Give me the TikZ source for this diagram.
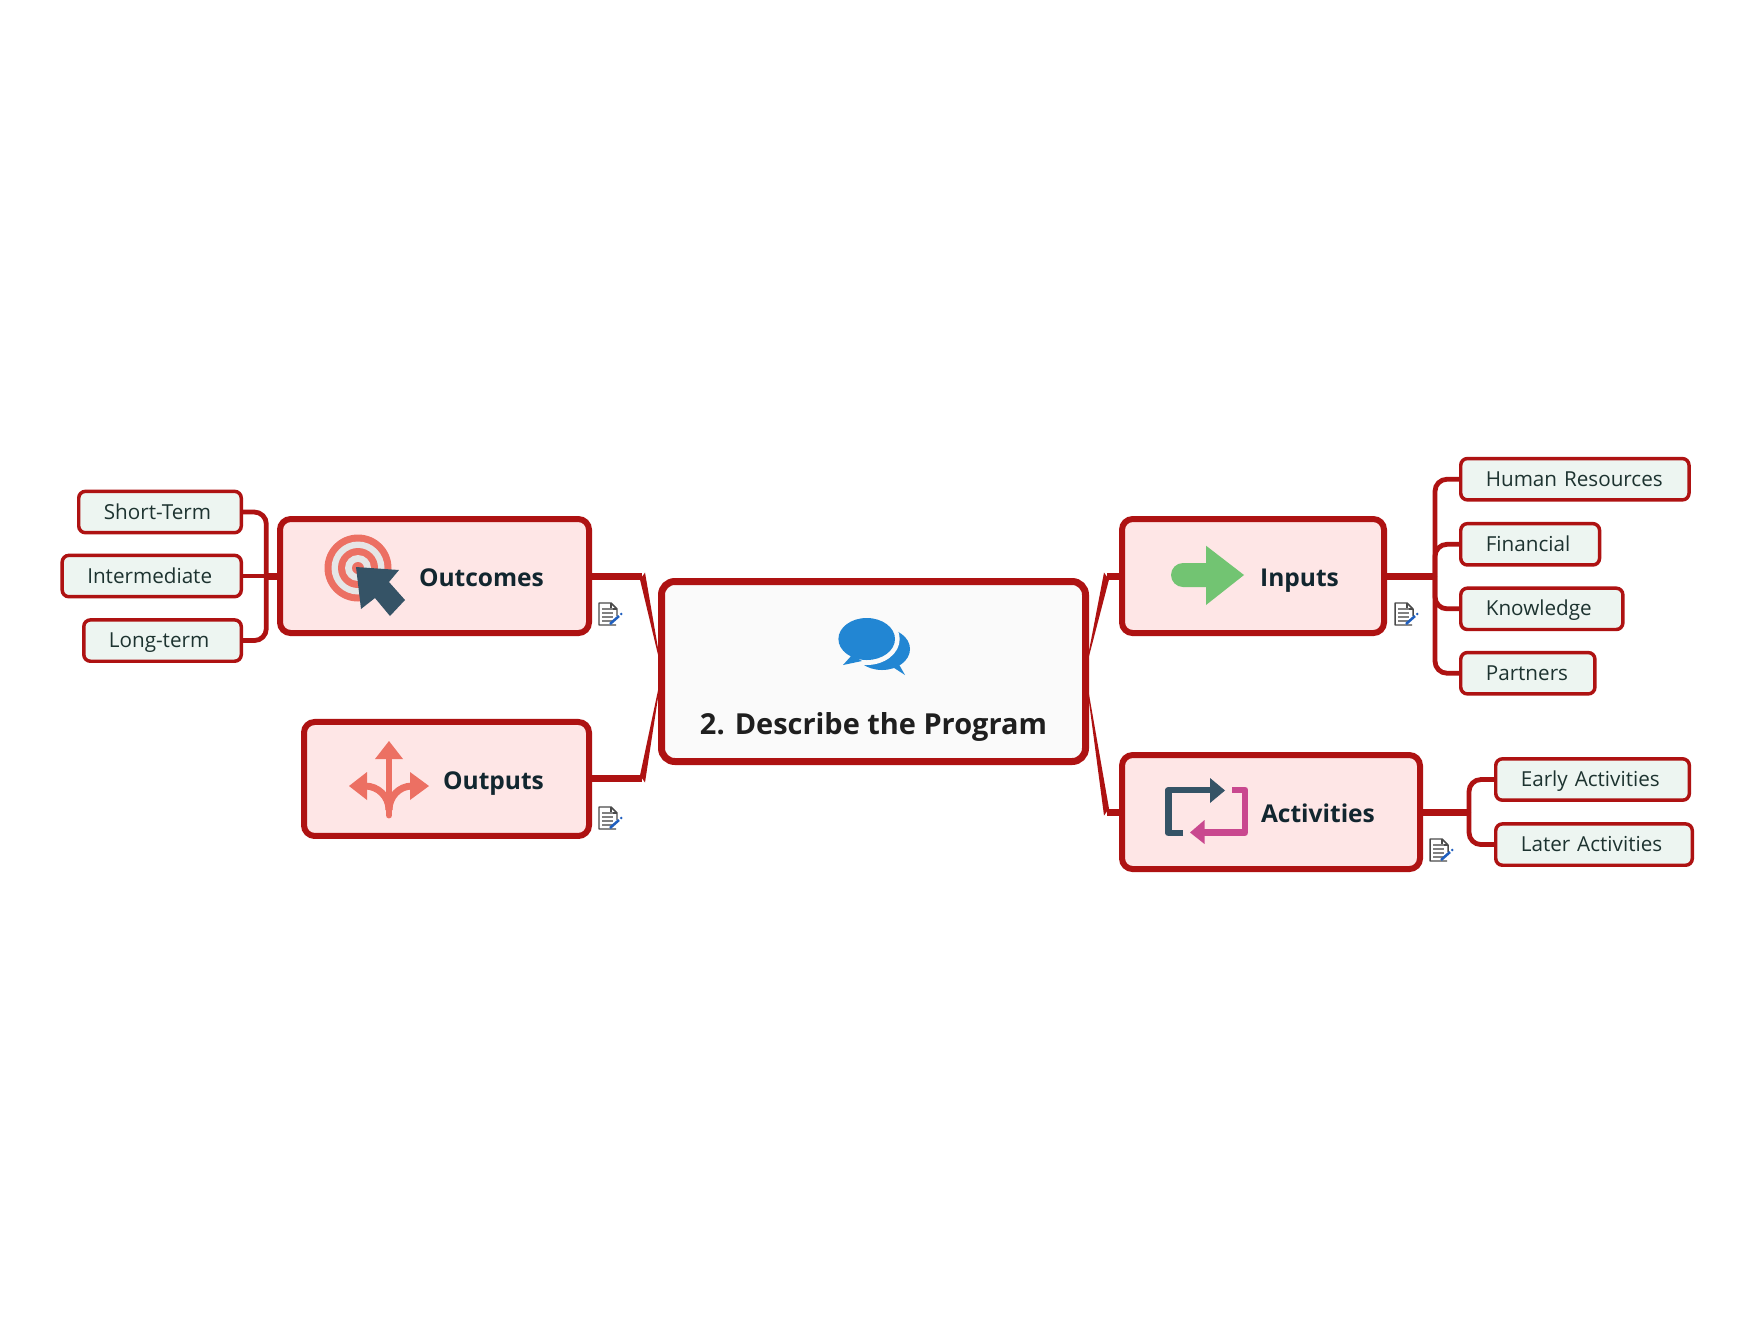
\documentclass[tikz,border=0pt]{standalone}
\usepackage{xcolor}
\usepackage{fontspec}
\setmainfont{Open Sans}
\usetikzlibrary{positioning}
\definecolor{brick}{HTML}{AE1212}
\definecolor{topicfill}{HTML}{FEE6E6}
\definecolor{leaffill}{HTML}{EDF5F1}
\definecolor{mainfill}{HTML}{FAFAFA}
\definecolor{coral}{HTML}{EC7063}
\definecolor{ringgrey}{HTML}{E6E6E6}
\definecolor{slate}{HTML}{355366}
\definecolor{leafgreen}{HTML}{72C472}
\definecolor{magenta}{HTML}{C9488F}
\definecolor{bubble}{HTML}{2286D3}
\definecolor{topicink}{HTML}{12262F}
\definecolor{leafink}{HTML}{1D3330}
\definecolor{notegrey}{HTML}{4A4A4A}
\definecolor{noteblue}{HTML}{1F5FBF}

\begin{document}
\begin{tikzpicture}[
    x=0.75pt, y=-0.75pt,
    mainbox/.style={rectangle, rounded corners=10pt, draw=brick, fill=mainfill, line width=5.25pt, minimum width=318pt, inner xsep=0pt, inner ysep=0pt, text height=114.9pt, text depth=20.1pt, font=\fontsize{21.7}{24}\selectfont\bfseries, text=black!88},
    topic/.style={rectangle, rounded corners=8pt, draw=brick, fill=topicfill, line width=4.5pt, inner xsep=33.8pt, inner ysep=0pt, text height=50.6pt, text depth=34.9pt, align=right, font=\fontsize{18.4}{20}\selectfont\bfseries, text=topicink},
    leaf/.style={rectangle, rounded corners=5pt, draw=brick, fill=leaffill, line width=2.6pt, inner xsep=18.8pt, inner ysep=0pt, text height=20.8pt, text depth=10.2pt, align=left, font=\fontsize{15.5}{17}\selectfont, text=leafink},
    stub/.style={draw=brick, line width=5.25pt},
    branch/.style={draw=brick, line width=3.6pt, rounded corners=9pt},
    noteicon/.pic={
        \draw[notegrey, line width=1.1pt, line join=round] (17,22) -- (0,22) -- (0,0) -- (12,0) -- (18,6) -- (18,13);
        \draw[notegrey, line width=0.8pt] (12,0) -- (12,6) -- (18,6);
        \foreach \yy in {6,10,14,18} \draw[notegrey!70, line width=0.9pt] (3,\yy) -- (14,\yy);
        \draw[noteblue, line width=1.9pt] (11,21) -- (20,13);
        \fill[noteblue] (22.2,11) circle (1pt);
    }
]
\path[fill=white] (0,0) rectangle (1755,1335);
\useasboundingbox (0,0) rectangle (1755,1335);

% central box and the four topics
\node (main) [mainbox] at (873.5,671.5) {2. Describe the Program};
\node (outcomes) [topic, text width=164.15pt, left=49.5pt of main, yshift=71.6pt] {Outcomes};
\node (outputs) [topic, text width=146.15pt, left=49.5pt of main, yshift=-80.6pt] {Outputs};
\node (inputs) [topic, text width=128.9pt, right=22.5pt of main, yshift=71.6pt] {Inputs};
\node (activities) [topic, text width=155.9pt, right=22.5pt of main, yshift=-105.4pt] {Activities};

% joints
\coordinate [right=37.5pt of outcomes] (outcomesknee);
\coordinate [right=37.5pt of outputs] (outputsknee);
\coordinate [left=9pt of inputs] (inputsknee);
\coordinate [left=9pt of activities] (activitiesknee);
\coordinate [left=8pt of outcomes] (outcomesbus);
\coordinate [right=36pt of inputs] (inputsbus);
\coordinate [right=34.5pt of activities] (activitiesbus);

% leaves
\node (shortterm) [leaf, text width=84.3pt, left=17.5pt of outcomesbus, yshift=48pt] {Short-Term};
\node (intermediate) [leaf, text width=96.7pt, left=17.5pt of outcomesbus] {Intermediate};
\node (longterm) [leaf, text width=80.5pt, left=17.5pt of outcomesbus, yshift=-48.4pt] {Long-term};
\node (humanres) [leaf, text width=133.6pt, right=18pt of inputsbus, yshift=72.6pt] {Human Resources};
\node (financial) [leaf, text width=66.5pt, right=18pt of inputsbus, yshift=23.8pt] {Financial};
\node (knowledge) [leaf, text width=84pt, right=18pt of inputsbus, yshift=-24.6pt] {Knowledge};
\node (partners) [leaf, text width=63pt, right=18pt of inputsbus, yshift=-72.9pt] {Partners};
\node (early) [leaf, text width=107.6pt, right=18.75pt of activitiesbus, yshift=24.4pt] {Early Activities};
\node (later) [leaf, text width=109.8pt, right=18.75pt of activitiesbus, yshift=-24.4pt] {Later Activities};

% connectors
\draw [stub] (outcomes) -- (outcomesknee);
\draw [stub] (outputs) -- (outputsknee);
\draw [stub] (inputs) -- (inputsknee);
\draw [stub] (activities) -- (activitiesknee);
\fill [brick] ([shift={(3,-3.5)}]outcomesknee) -- ([xshift=3pt]main.west) -- ([shift={(-2,3.5)}]outcomesknee) -- cycle;
\fill [brick] ([shift={(3,3.5)}]outputsknee) -- ([xshift=3pt]main.west) -- ([shift={(-2,-3.5)}]outputsknee) -- cycle;
\fill [brick] ([shift={(-3,-3.5)}]inputsknee) -- ([xshift=-3pt]main.east) -- ([shift={(2,3.5)}]inputsknee) -- cycle;
\fill [brick] ([shift={(-3,3.5)}]activitiesknee) -- ([xshift=-3pt]main.east) -- ([shift={(2,-3.5)}]activitiesknee) -- cycle;

\draw [stub] (outcomes) -- (outcomesbus);
\draw [stub] (inputs) -- (inputsbus);
\draw [stub] (activities) -- (activitiesbus);
\draw [branch] (shortterm) -| (outcomesbus);
\draw [branch] (intermediate) -- (outcomesbus);
\draw [branch] (longterm) -| (outcomesbus);
\draw [branch] (humanres) -| (inputsbus);
\draw [branch] (financial) -| (inputsbus);
\draw [branch] (knowledge) -| (inputsbus);
\draw [branch] (partners) -| (inputsbus);
\draw [branch] (early) -| (activitiesbus);
\draw [branch] (later) -| (activitiesbus);

% speech bubbles
\fill [bubble] (882,649) ellipse [x radius=28, y radius=21];
\fill [bubble] (888,664) -- (905,675) -- (897,661) -- cycle;
\fill [mainfill] (866.7,639) ellipse [x radius=33, y radius=26];
\fill [bubble] (866.7,639) ellipse [x radius=28.3, y radius=21];
\fill [bubble] (852,655) -- (843,665) -- (862,661) -- cycle;

% target
\fill [coral] (358,568) circle (33.5);
\fill [ringgrey] (358,568) circle (26.5);
\fill [coral] (358,568) circle (20);
\fill [ringgrey] (358,568) circle (13);
\fill [coral] (358,568) circle (6);
\fill [slate] (356,567) -- (399,570) -- (389,582) -- (405,600) -- (390,616) -- (375,598) -- (361,609) -- cycle;

% branching arrows
\fill [coral] (389,741) -- (403,759) -- (375,759) -- cycle;
\fill [coral] (349,786) -- (367,772) -- (367,800) -- cycle;
\fill [coral] (429,786) -- (410,772) -- (410,800) -- cycle;
\draw [coral, line width=5.2pt, line cap=round] (389,755) -- (389,815);
\draw [coral, line width=5.2pt] (365,786) to[out=0, in=90] (389,810);
\draw [coral, line width=5.2pt] (412,786) to[out=180, in=90] (389,810);

% right arrow
\fill [leafgreen] (1206,545.7) -- (1244,575) -- (1206,605) -- (1206,587) -- (1183,587) arc [start angle=90, end angle=270, radius=12] -- (1206,563) -- cycle;

% loop arrows
\draw [slate, line width=5pt, line join=round] (1183,833) -- (1168.5,833) -- (1168.5,790) -- (1212,790);
\fill [slate] (1210,778) -- (1225,790.5) -- (1210,803) -- cycle;
\draw [magenta, line width=5pt, line join=round] (1232,790) -- (1245,790) -- (1245,832.5) -- (1202,832.5);
\fill [magenta] (1204.5,820) -- (1190,832.5) -- (1204.5,844) -- cycle;

% note marks
\pic at (599,603) {noteicon};
\pic at (599,807) {noteicon};
\pic at (1395,603) {noteicon};
\pic at (1430,839) {noteicon};
\end{tikzpicture}
\end{document}
